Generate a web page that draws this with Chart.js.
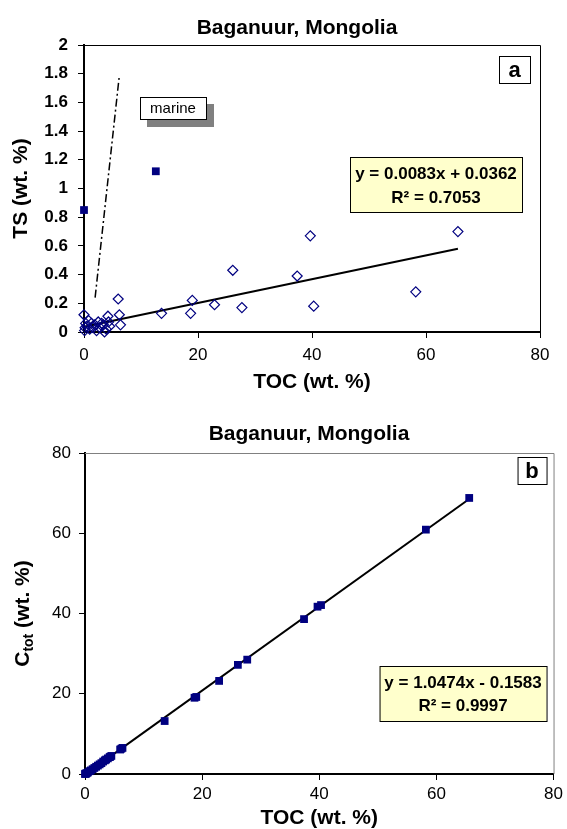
<!DOCTYPE html>
<html>
<head>
<meta charset="utf-8">
<title>Baganuur, Mongolia</title>
<script src="https://cdn.jsdelivr.net/npm/chart.js@4.4.0/dist/chart.umd.min.js"></script>
<style>
body{margin:0;background:#fff;}
#wrapA{position:absolute;left:0;top:0;width:567px;height:400px;}
#wrapB{position:absolute;left:0;top:405px;width:567px;height:424px;}
</style>
</head>
<body>
<div id="wrapA"><canvas id="chartA"></canvas></div>
<div id="wrapB"><canvas id="chartB"></canvas></div>
<script>
// samples: TOC, TS and total carbon (wt. %)
var toc  = [0.0, 0.1, 0.2, 0.3, 0.5, 0.8, 1.0, 1.3, 1.6, 1.9, 2.2, 2.5, 2.8, 3.1, 3.4, 3.6, 3.9, 4.2, 4.3, 4.5, 6.0, 6.2, 6.4, 13.6, 18.7, 19.0, 22.9, 26.1, 27.7, 37.4, 39.7, 40.3, 58.2, 65.6];
var ts   = [0.12, 0.01, 0.03, 0.06, 0.04, 0.08, 0.02, 0.06, 0.03, 0.05, 0.01, 0.07, 0.03, 0.06, 0.05, 0.00, 0.02, 0.11, 0.07, 0.04, 0.23, 0.12, 0.05, 0.13, 0.13, 0.22, 0.19, 0.43, 0.17, 0.39, 0.67, 0.18, 0.28, 0.70];
var ctot = [0.0, 0.1, 0.1, 0.2, 0.4, 0.7, 0.9, 1.2, 1.5, 1.8, 2.1, 2.4, 2.7, 3.1, 3.4, 3.6, 3.9, 4.2, 4.3, 4.5, 6.1, 6.3, 6.5, 13.2, 19.0, 19.2, 23.2, 27.2, 28.5, 38.6, 41.7, 42.1, 60.9, 68.8];

// excluded samples (filled squares in a)
var outToc = [0.0, 12.6];
var outTs  = [0.85, 1.12];

// marine line and regression lines
var marineX = [1.95, 6.15];
var marineY = [0.24, 1.77];
var fitAX = [0, 65.6];
var fitAY = [0.036, 0.58];
var fitBX = [0, 65.6];
var fitBY = [-0.16, 68.55];

var xTicks = [0, 20, 40, 60, 80];
var tsTicks = [0, 0.2, 0.4, 0.6, 0.8, 1, 1.2, 1.4, 1.6, 1.8, 2];
var ctotTicks = [0, 20, 40, 60, 80];

var NAVY = '#000080';
Chart.defaults.font.family = '"Liberation Sans", Arial, sans-serif';
Chart.defaults.color = '#000';

function pts(xs, ys){
	var out = [];
	for (var i = 0; i < xs.length; i++) out.push({x: xs[i], y: ys[i]});
	return out;
}

function fixTicks(list){
	return function(scale){
		scale.ticks = list.map(function(v){ return {value: v}; });
	};
}

// plain number labels like "1", "1.2", "2"
function plain(v){ return String(Math.round(v * 10) / 10); }

function txtBox(ctx, x, y, w, h, fill){
	ctx.fillStyle = fill;
	ctx.fillRect(x, y, w, h);
	ctx.strokeStyle = '#000';
	ctx.lineWidth = 1;
	ctx.strokeRect(x + 0.5, y + 0.5, w, h);
}

function frame(ctx, ca, col){
	ctx.save();
	ctx.strokeStyle = col;
	ctx.lineWidth = 1;
	ctx.beginPath();
	ctx.moveTo(ca.left, ca.top + 0.5);
	ctx.lineTo(ca.right + 0.5, ca.top + 0.5);
	ctx.lineTo(ca.right + 0.5, ca.bottom);
	ctx.stroke();
	ctx.restore();
}

function axisX(title, size, tickPad, titlePad, h){
	return {
		type: 'linear', min: 0, max: 80,
		afterBuildTicks: fixTicks(xTicks),
		afterFit: function(s){ s.height = h; },
		grid: {drawOnChartArea: false, tickLength: 6, color: '#000', lineWidth: 1},
		border: {color: '#000', width: 2},
		ticks: {font: {size: size}, padding: tickPad, color: '#000', callback: plain},
		title: {display: true, text: title, font: {size: 21, weight: 'bold', lineHeight: 1}, padding: {top: 0, bottom: titlePad}, color: '#000'}
	};
}

// ---- chart a : TS vs TOC
var decoA = {
	id: 'decoA',
	beforeDatasetsDraw: function(chart){ frame(chart.ctx, chart.chartArea, '#000'); },
	afterDraw: function(chart){
		var ctx = chart.ctx, ca = chart.chartArea;
		ctx.save();
		ctx.fillStyle = '#000';
		ctx.textAlign = 'center';
		ctx.font = 'bold 21px "Liberation Sans"';
		ctx.fillText('Baganuur, Mongolia', 297, 34);

		// panel letter
		txtBox(ctx, ca.right - 41, ca.top + 11, 31, 27, '#fff');
		ctx.fillStyle = '#000';
		ctx.font = 'bold 22px "Liberation Sans"';
		ctx.fillText('a', ca.right - 25.5, ca.top + 32);

		// marine label with shadow
		ctx.fillStyle = '#808080';
		ctx.fillRect(ca.left + 63, ca.top + 59, 67, 23);
		txtBox(ctx, ca.left + 56, ca.top + 52, 66, 22, '#fff');
		ctx.fillStyle = '#000';
		ctx.font = '15px "Liberation Sans"';
		ctx.fillText('marine', ca.left + 89, ca.top + 68);

		// regression label
		txtBox(ctx, ca.right - 190, ca.top + 112, 172, 55, '#FFFFCC');
		ctx.fillStyle = '#000';
		ctx.font = 'bold 17px "Liberation Sans"';
		ctx.fillText('y = 0.0083x + 0.0362', ca.right - 104, ca.top + 134);
		ctx.fillText('R\u00B2 = 0.7053', ca.right - 104, ca.top + 158);
		ctx.restore();
	}
};

var xa = axisX('TOC (wt. %)', 17, 7, 7, 68);

new Chart(document.getElementById('chartA'), {
	type: 'scatter',
	data: {
		datasets: [
			{data: pts(fitAX, fitAY), showLine: true, borderColor: '#000', borderWidth: 2, pointRadius: 0, clip: false, order: 3},
			{data: pts(marineX, marineY), showLine: true, borderColor: '#000', borderWidth: 1.5, borderDash: [8, 3, 2, 3], pointRadius: 0, clip: false, order: 4},
			{data: pts(toc, ts), pointStyle: 'rectRot', pointRadius: 5, pointBorderWidth: 1.2, pointBorderColor: NAVY, pointBackgroundColor: 'rgba(255,255,255,0)', clip: false, order: 2},
			{data: pts(outToc, outTs), pointStyle: 'rect', pointRadius: 5.5, pointBorderWidth: 0, pointBackgroundColor: NAVY, pointBorderColor: NAVY, clip: false, order: 1}
		]
	},
	options: {
		responsive: true,
		maintainAspectRatio: false,
		animation: false,
		layout: {padding: {top: 45, right: 27, left: 0, bottom: 0}},
		plugins: {legend: {display: false}, tooltip: {enabled: false}},
		scales: {
			x: xa,
			y: {
				type: 'linear', min: 0, max: 2,
				afterBuildTicks: fixTicks(tsTicks),
				afterFit: function(s){ s.width = 84; },
				grid: {drawOnChartArea: false, tickLength: 6, color: '#000', lineWidth: 1},
				border: {color: '#000', width: 2},
				ticks: {font: {size: 17, weight: 'bold'}, padding: 10, color: '#000', callback: plain},
				title: {display: true, text: 'TS (wt. %)', font: {size: 21, weight: 'bold', lineHeight: 1}, padding: {top: 11, bottom: 0}, color: '#000'}
			}
		}
	},
	plugins: [decoA]
});

// ---- chart b : Ctot vs TOC
var decoB = {
	id: 'decoB',
	beforeDatasetsDraw: function(chart){ frame(chart.ctx, chart.chartArea, '#808080'); },
	afterDraw: function(chart){
		var ctx = chart.ctx, ca = chart.chartArea;
		ctx.save();
		ctx.fillStyle = '#000';
		ctx.textAlign = 'center';
		ctx.font = 'bold 21px "Liberation Sans"';
		ctx.fillText('Baganuur, Mongolia', 309, 35);

		txtBox(ctx, ca.right - 36, ca.top + 4, 29, 27, '#fff');
		ctx.fillStyle = '#000';
		ctx.font = 'bold 22px "Liberation Sans"';
		ctx.fillText('b', ca.right - 21.5, ca.top + 25);

		txtBox(ctx, ca.right - 174, ca.top + 213, 167, 55, '#FFFFCC');
		ctx.fillStyle = '#000';
		ctx.font = 'bold 17px "Liberation Sans"';
		ctx.fillText('y = 1.0474x - 0.1583', ca.right - 90.5, ca.top + 235);
		ctx.fillText('R\u00B2 = 0.9997', ca.right - 90.5, ca.top + 258);

		// y title with subscript, rotated
		ctx.translate(23, (ca.top + ca.bottom) / 2);
		ctx.rotate(-Math.PI / 2);
		ctx.textAlign = 'left';
		ctx.textBaseline = 'middle';
		var big = 'bold 21px "Liberation Sans"', small = 'bold 14px "Liberation Sans"';
		ctx.font = big;  var w1 = ctx.measureText('C').width, w3 = ctx.measureText(' (wt. %)').width;
		ctx.font = small; var w2 = ctx.measureText('tot').width;
		var x0 = -(w1 + w2 + w3) / 2;
		ctx.font = big;   ctx.fillText('C', x0, 0);
		ctx.font = small; ctx.fillText('tot', x0 + w1, 6);
		ctx.font = big;   ctx.fillText(' (wt. %)', x0 + w1 + w2, 0);
		ctx.restore();
	}
};

var xb = axisX('TOC (wt. %)', 17, 4, 0, 55);

new Chart(document.getElementById('chartB'), {
	type: 'scatter',
	data: {
		datasets: [
			{data: pts(fitBX, fitBY), showLine: true, borderColor: '#000', borderWidth: 2, pointRadius: 0, clip: false, order: 2},
			{data: pts(toc, ctot), pointStyle: 'rect', pointRadius: 5.5, pointBorderWidth: 0, pointBackgroundColor: NAVY, pointBorderColor: NAVY, clip: false, order: 1}
		]
	},
	options: {
		responsive: true,
		maintainAspectRatio: false,
		animation: false,
		layout: {padding: {top: 48, right: 12, left: 0, bottom: 0}},
		plugins: {legend: {display: false}, tooltip: {enabled: false}},
		scales: {
			x: xb,
			y: {
				type: 'linear', min: 0, max: 80,
				afterBuildTicks: fixTicks(ctotTicks),
				afterFit: function(s){ s.width = 85; },
				grid: {drawOnChartArea: false, tickLength: 6, color: '#000', lineWidth: 1},
				border: {color: '#000', width: 2},
				ticks: {font: {size: 17}, padding: 8, color: '#000', callback: plain},
				title: {display: false}
			}
		}
	},
	plugins: [decoB]
});
</script>
</body>
</html>
